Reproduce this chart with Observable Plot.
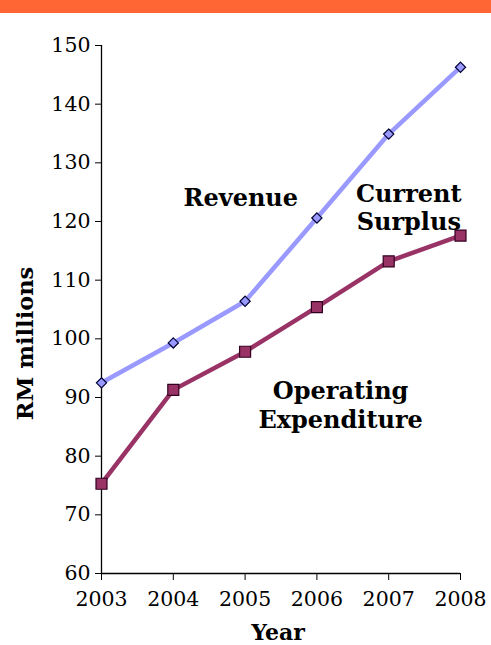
<!DOCTYPE html>
<html>
<head>
<meta charset="utf-8">
<script src="https://cdn.jsdelivr.net/npm/d3@7"></script>
<script src="https://cdn.jsdelivr.net/npm/@observablehq/plot@0.6"></script>
<style>
  html, body { margin: 0; padding: 0; background: #fff; }
  #bar { height: 13px; background: #FF6633; }
  #chart svg { display: block; }
</style>
</head>
<body>
<div id="bar"></div>
<div id="chart"></div>
<script>
const years = [2003, 2004, 2005, 2006, 2007, 2008];
const revenue = [92.5, 99.3, 106.4, 120.6, 134.9, 146.3];
const operatingExpenditure = [75.3, 91.3, 97.8, 105.4, 113.2, 117.6];
const yTicks = [60, 70, 80, 90, 100, 110, 120, 130, 140, 150];
const annotations = [
  {text: "Revenue", x: 2004.94, y: 124.1},
  {text: "Current\nSurplus", x: 2007.28, y: 122.4},
  {text: "Operating\nExpenditure", x: 2006.33, y: 88.8}
];

const revData = years.map((yr, i) => ({year: yr, value: revenue[i]}));
const opData = years.map((yr, i) => ({year: yr, value: operatingExpenditure[i]}));

const chart = Plot.plot({
  width: 491,
  height: 632,
  marginTop: 32,
  marginBottom: 72,
  marginLeft: 101,
  marginRight: 31,
  style: {fontFamily: "DejaVu Serif", fontSize: "20px", color: "#000", background: "#fff"},
  x: {domain: [2003, 2008]},
  y: {domain: [60, 150]},
  marks: [
    Plot.axisY({ticks: yTicks, tickSize: 6, tickPadding: 5, label: null, fontSize: 20.5}),
    Plot.axisX({ticks: years, tickSize: 7, tickPadding: 11, tickFormat: d => String(d), label: null, fontSize: 20.5}),
    Plot.ruleX([2003], {stroke: "#000", strokeWidth: 1.3}),
    Plot.ruleY([60], {stroke: "#000", strokeWidth: 1.3}),
    Plot.line(revData, {x: "year", y: "value", stroke: "#9999FF", strokeWidth: 4.5}),
    Plot.line(opData, {x: "year", y: "value", stroke: "#993366", strokeWidth: 4.5}),
    Plot.dot(revData, {x: "year", y: "value", symbol: "diamond2", r: 4.6, fill: "#9999FF", stroke: "#000033", strokeWidth: 1.2}),
    Plot.dot(opData, {x: "year", y: "value", symbol: "square", r: 6.2, fill: "#993366", stroke: "#330022", strokeWidth: 1.2}),
    Plot.text(annotations, {x: "x", y: "y", text: "text", fontSize: 24, fontWeight: "bold", lineHeight: 1.17, textAnchor: "middle", lineAnchor: "middle", fill: "#000"}),
    Plot.text(["RM millions"], {frameAnchor: "left", rotate: -90, dx: -76, dy: 34, fontSize: 22.5, fontWeight: "bold", textAnchor: "middle", lineAnchor: "middle", fill: "#000"}),
    Plot.text(["Year"], {frameAnchor: "bottom", dx: -3, dy: 59, fontSize: 22, fontWeight: "bold", textAnchor: "middle", lineAnchor: "middle", fill: "#000"})
  ]
});
document.getElementById("chart").appendChild(chart);
</script>
</body>
</html>
